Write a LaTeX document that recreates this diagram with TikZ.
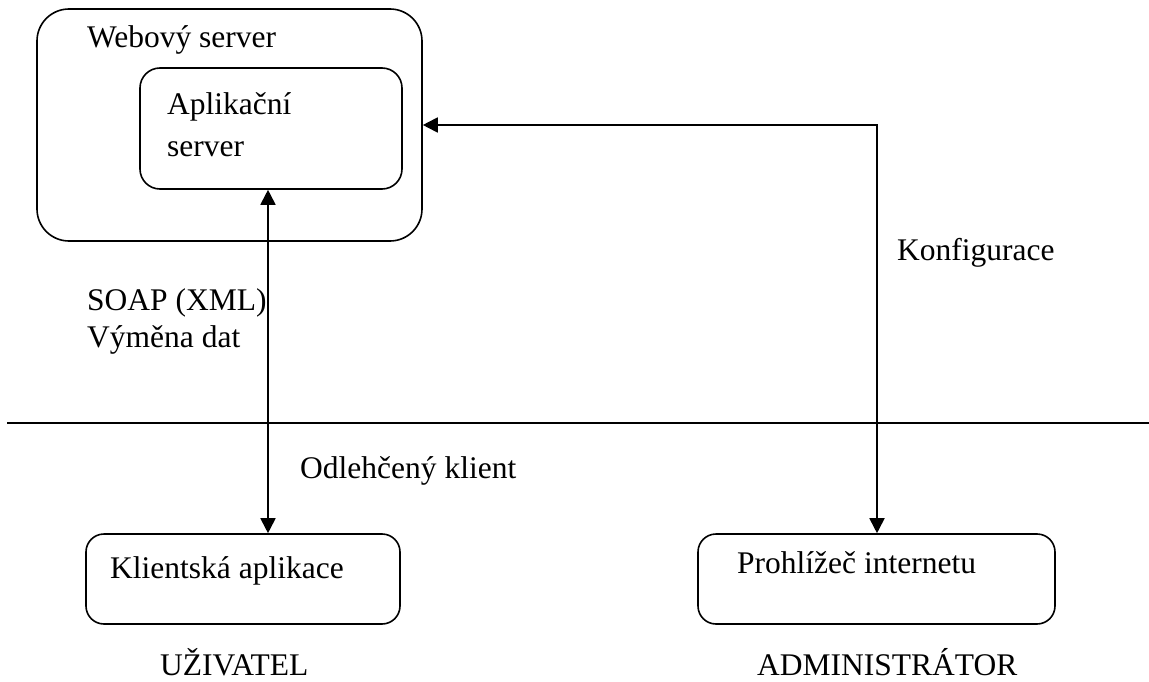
\documentclass[tikz,border=0pt]{standalone}
\usepackage{fontspec}
\setmainfont{Liberation Serif}
\usetikzlibrary{calc,arrows.meta}

\begin{document}
\begin{tikzpicture}[x=1pt,y=-1pt,
    box/.style={draw,line width=1.6pt,rounded corners=#1,inner sep=0pt},
    txt/.style={anchor=base west,inner sep=0pt,align=left,
        font=\fontsize{31.5}{37}\selectfont},
    arr/.style={line width=1.8pt,{Triangle[length=15pt,width=15pt]}-{Triangle[length=15pt,width=15pt]}}]
    \useasboundingbox (0,0) rectangle (1149,682);
    \pgfmathsetmacro{\h}{90}	%box height

    \node[box=32pt,minimum width=385pt,minimum height=232pt] (web) at (229.5,125) {};
    \node[box=20pt,minimum width=262pt,minimum height=121pt] (app) at (271,128.5) {};
    \node[box=18pt,minimum width=314pt,minimum height=\h pt] (klient) at (243,579) {};
    \node[box=18pt,minimum width=357pt,minimum height=\h pt] (prohl) at (876.5,579) {};

    \coordinate (L) at (7,423);
    \coordinate (R) at (1149,423);
    \draw[line width=1.6pt] (L) -- (R);

    % base = last line
    \node[txt] (tweb) at (87,48) {Webový server};
    \node[txt,font=\fontsize{31.5}{42}\selectfont] (tapp) at (167,157) {Aplikační\\server};
    \node[txt] (tsoap) at (87,347) {SOAP (XML)\\Výměna dat};
    \node[txt] (todl) at (300,478) {Odlehčený klient};
    \node[txt] (tkonf) at (897,260) {Konfigurace};
    \node[txt] (tklient) at (110,578) {Klientská aplikace};
    \node[txt] (tprohl) at (737,573) {Prohlížeč internetu};
    \node[txt] (tuziv) at (160,675) {UŽIVATEL};
    \node[txt] (tadmin) at (757,675) {ADMINISTRÁTOR};

    \draw[arr] ([xshift=-3pt]app.south) -- ([xshift=-3pt]app.south |- klient.north);
    \draw[arr] (web.east) -| ([xshift=0.5pt]prohl.north);
\end{tikzpicture}
\end{document}
